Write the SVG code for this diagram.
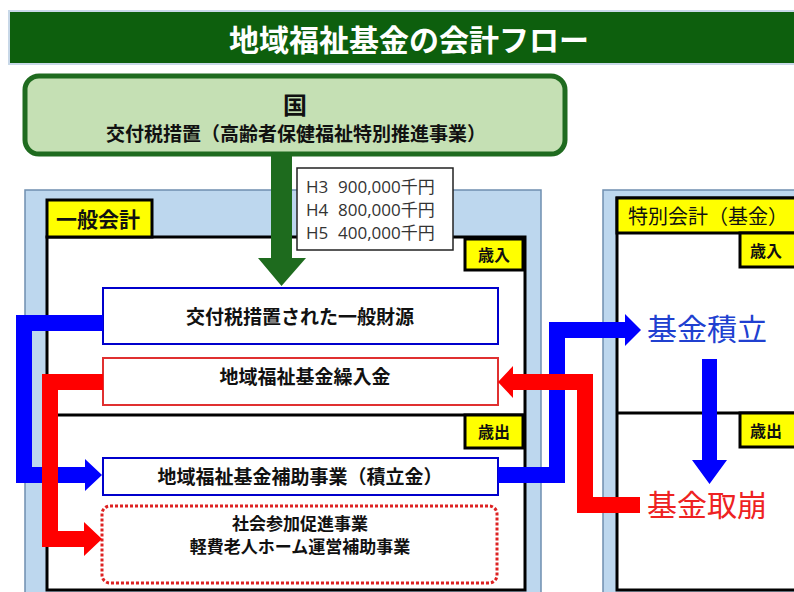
<svg xmlns="http://www.w3.org/2000/svg" width="794" height="592" viewBox="0 0 794 592">
<style>
text{font-family:"Noto Sans CJK JP","Noto Sans",sans-serif;}
.b{font-weight:bold;fill:#111;}
.amt{font-size:17px;fill:#333;font-family:"Open Sans","Noto Sans CJK JP",sans-serif;}
.panel{fill:#bdd7ee;stroke:#6f8fb0;stroke-width:1.5;}
.wbox{fill:#fff;stroke:#000;stroke-width:3;}
.ylw{fill:#ffff00;stroke:#000;stroke-width:3;}
.div{stroke:#000;stroke-width:3;}
.bluebox{fill:#fff;stroke:#0000cc;stroke-width:2;}
.redbox{fill:#fff;stroke:#e03030;stroke-width:2;}
.blue{fill:#0000ff;}
.red{fill:#ff0000;}
</style>
<rect width="794" height="592" fill="#fff"/>
<g id="title">
<rect x="9" y="11" width="790" height="53" fill="#0d5f0d" stroke="#c8d8e8" stroke-width="2"/>
<text x="409" y="51" font-size="30" font-weight="bold" fill="#fff" text-anchor="middle">地域福祉基金の会計フロー</text>
</g>
<g id="general-account">
<rect class="panel" x="25" y="190" width="516" height="410"/>
<rect class="wbox" x="47" y="237" width="478" height="353"/>
<rect class="ylw" x="47" y="200" width="105" height="37"/>
<text class="b" x="56" y="227" font-size="21">一般会計</text>
<line class="div" x1="47" y1="415" x2="525" y2="415"/>
<rect class="ylw" x="465" y="239" width="58" height="31"/>
<text class="b" x="494" y="261" font-size="16" text-anchor="middle">歳入</text>
<rect class="ylw" x="465" y="415" width="58" height="33"/>
<text class="b" x="494" y="438" font-size="16" text-anchor="middle">歳出</text>
</g>
<g id="special-account">
<rect class="panel" x="603" y="190" width="200" height="410"/>
<rect class="wbox" x="617" y="198" width="190" height="392"/>
<rect class="ylw" x="617" y="198" width="190" height="35"/>
<text x="628" y="224" font-size="20" fill="#111">特別会計（基金）</text>
<line class="div" x1="617" y1="413" x2="800" y2="413"/>
<rect class="ylw" x="740" y="233" width="64" height="34"/>
<text class="b" x="750" y="257" font-size="16">歳入</text>
<rect class="ylw" x="740" y="413" width="64" height="34"/>
<text class="b" x="750" y="437" font-size="16">歳出</text>
</g>
<g id="kuni">
<rect x="25" y="76" width="540" height="78" rx="14" fill="#c5e0b4" stroke="#1f6b1f" stroke-width="5"/>
<text class="b" x="295" y="114" font-size="24" text-anchor="middle">国</text>
<text class="b" x="296" y="141" font-size="19" text-anchor="middle">交付税措置（高齢者保健福祉特別推進事業）</text>
</g>
<g id="amounts">
<rect x="297" y="168" width="156" height="82" fill="#fff" stroke="#222" stroke-width="1.5"/>
<text class="amt" y="193"><tspan x="306">H3</tspan><tspan x="338">900,000千円</tspan></text>
<text class="amt" y="216"><tspan x="306">H4</tspan><tspan x="338">800,000千円</tspan></text>
<text class="amt" y="239"><tspan x="306">H5</tspan><tspan x="338">400,000千円</tspan></text>
</g>
<g id="general-revenue">
<rect class="bluebox" x="103" y="288" width="395" height="56"/>
<text class="b" x="300" y="324" font-size="19" text-anchor="middle">交付税措置された一般財源</text>
</g>
<g id="transfer-in">
<rect class="redbox" x="103" y="358" width="395" height="47"/>
<text class="b" x="305" y="384" font-size="19" text-anchor="middle">地域福祉基金繰入金</text>
</g>
<g id="subsidy">
<rect class="bluebox" x="103" y="458" width="395" height="37"/>
<text class="b" x="300" y="484" font-size="19" text-anchor="middle">地域福祉基金補助事業（積立金）</text>
</g>
<g id="projects">
<rect x="102" y="506" width="395" height="77" rx="8" fill="#fff" stroke="#dd2222" stroke-width="3" stroke-dasharray="3 2"/>
<text class="b" x="300" y="530" font-size="17" text-anchor="middle">社会参加促進事業</text>
<text class="b" x="300" y="553" font-size="17" text-anchor="middle">軽費老人ホーム運営補助事業</text>
</g>
<g id="fund-accumulate">
<text x="647" y="340" font-size="30" fill="#2040d0">基金積立</text>
</g>
<g id="fund-withdraw">
<text x="647" y="516" font-size="30" fill="#ee2222">基金取崩</text>
</g>
<g id="connectors">
<polygon fill="#1e6b1e" points="271,152 292,152 292,258 306,258 281.5,286 258,258 271,258"/>
<path class="blue" d="M103,315 L16,315 L16,483 L85,483 L85,491 L102,475 L85,459 L85,467 L32,467 L32,331 L103,331 Z"/>
<path class="red" d="M103,374 L42,374 L42,547 L84,547 L84,556 L102,539 L84,522 L84,531 L58,531 L58,390 L103,390 Z"/>
<path class="blue" d="M498,467 L549,467 L549,322 L625,322 L625,314 L641,330 L625,346 L625,338 L565,338 L565,483 L498,483 Z"/>
<path class="red" d="M513,374 L593,374 L593,497 L640,497 L640,513 L577,513 L577,390 L513,390 L513,398 L498,382 L513,366 Z"/>
<polygon class="blue" points="702,359 717,359 717,460 727,460 709.5,484 692,460 702,460"/>
</g>
</svg>
